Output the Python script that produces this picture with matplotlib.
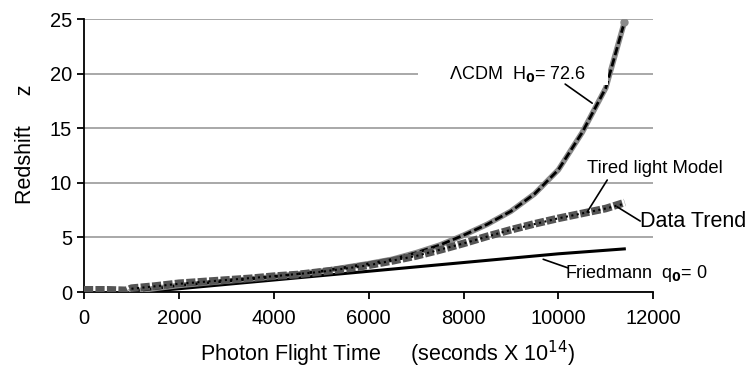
import matplotlib.pyplot as plt

plt.rcParams["font.family"] = ["Liberation Sans", "DejaVu Sans"]

# data trend (grey squares)
data_t = [0, 500, 900, 1000, 1500, 2000, 2500, 3000, 3500, 4000, 4500, 5000, 5500,
          6000, 6500, 7000, 7500, 8000, 8500, 9000, 9500, 10000, 10500, 11000, 11400]
data_z = [0.2, 0.2, 0.15, 0.35, 0.55, 0.8, 0.95, 1.1, 1.25, 1.45, 1.6, 1.85, 2.1,
          2.45, 2.85, 3.3, 3.85, 4.45, 5.1, 5.7, 6.25, 6.75, 7.2, 7.65, 8.2]

# tired light model (dotted)
tired_t = [1000, 2000, 3000, 4000, 5000, 6000, 7000, 8000, 9000, 10000, 11000, 11400]
tired_z = [0.3, 0.75, 1.1, 1.45, 1.85, 2.45, 3.3, 4.45, 5.7, 6.75, 7.65, 8.1]

# LambdaCDM H0 = 72.6
lcdm_t = [1000, 2000, 3000, 4000, 5000, 6000, 6500, 7000, 7500, 8000, 8500,
          9000, 9500, 10000, 10500, 11000, 11390]
lcdm_z = [0.05, 0.6, 1.0, 1.4, 1.9, 2.6, 3.0, 3.6, 4.3, 5.2, 6.2,
          7.4, 9.0, 11.2, 14.6, 18.7, 24.7]

# Friedmann q0 = 0
fried_t = [1200, 2000, 3000, 4000, 5000, 6000, 7000, 8000, 9000, 10000, 11390]
fried_z = [0.0, 0.3, 0.7, 1.1, 1.5, 1.9, 2.3, 2.7, 3.1, 3.5, 3.95]

fig = plt.figure(figsize=(7.5, 3.68), dpi=100)
ax = fig.add_axes([0.112, 0.2065, 0.759, 0.7415])

ax.set_xlim(0, 12000)
ax.set_ylim(0, 25)
ax.set_xticks(range(0, 12001, 2000))
ax.set_yticks(range(0, 26, 5))
ax.yaxis.grid(True, color="#999999", linewidth=1.2)
ax.set_axisbelow(True)
for s in ["top", "right"]:
    ax.spines[s].set_visible(False)
ax.spines["left"].set_linewidth(1.3)
ax.spines["bottom"].set_linewidth(1.3)
ax.tick_params(axis="both", labelsize=14.5, length=5, width=1.3, direction="out")
ax.tick_params(axis="x", pad=7)

# curves
ax.plot(fried_t, fried_z, color="black", linewidth=2.2, zorder=3)
ax.plot(lcdm_t, lcdm_z, color="#8a8a8a", linewidth=4, zorder=4)
ax.plot(lcdm_t, lcdm_z, color="black", linewidth=2, dashes=(3, 1.2), zorder=5)
ax.plot(lcdm_t[-1:], lcdm_z[-1:], "o", color="#8a8a8a", markersize=5, zorder=5)
ax.plot(data_t, data_z, color="#555555", linewidth=5.5, dashes=(1.2, 0.3), zorder=6)
ax.plot(tired_t, tired_z, color="black", linewidth=1.5, linestyle=":", zorder=7)

# axis labels
ax.set_xlabel("Photon Flight Time     (seconds X 10$^{14}$)", fontsize=15.5)
ax.xaxis.set_label_coords(0.534, -0.17)
ax.set_ylabel("Redshift     z", fontsize=15.5)
ax.yaxis.set_label_coords(-0.084, 0.54)

# annotations
line_kw = dict(arrowstyle="-", color="black", linewidth=1.2, shrinkA=0, shrinkB=0)
ax.text(9040, 20, "      \u039bCDM  H$_\\mathbf{0}$= 72.6     ", fontsize=13,
        ha="center", va="center", zorder=8,
        bbox=dict(boxstyle="square,pad=0.05", facecolor="white", edgecolor="none"))
ax.annotate("", xy=(10713, 17.3), xytext=(10143, 19.05), arrowprops=line_kw, zorder=8)

ax.text(12030, 11.3, "Tired light Model", fontsize=13.3, ha="center", va="center",
        clip_on=False)
ax.annotate("", xy=(10607, 7.33), xytext=(11030, 10.26), arrowprops=line_kw, zorder=8)

ax.text(12843, 6.5, "Data Trend", fontsize=15.5, ha="center", va="center",
        clip_on=False)
ax.annotate("", xy=(11240, 7.8), xytext=(11725, 6.5), arrowprops=line_kw, zorder=8)

ax.text(11640, 1.74, "Friedmann  q$_\\mathbf{0}$= 0", fontsize=13, ha="center",
        va="center", clip_on=False)
ax.annotate("", xy=(9680, 3.0), xytext=(10207, 2.2), arrowprops=line_kw, zorder=8)

fig.savefig("out.png", dpi=100)
